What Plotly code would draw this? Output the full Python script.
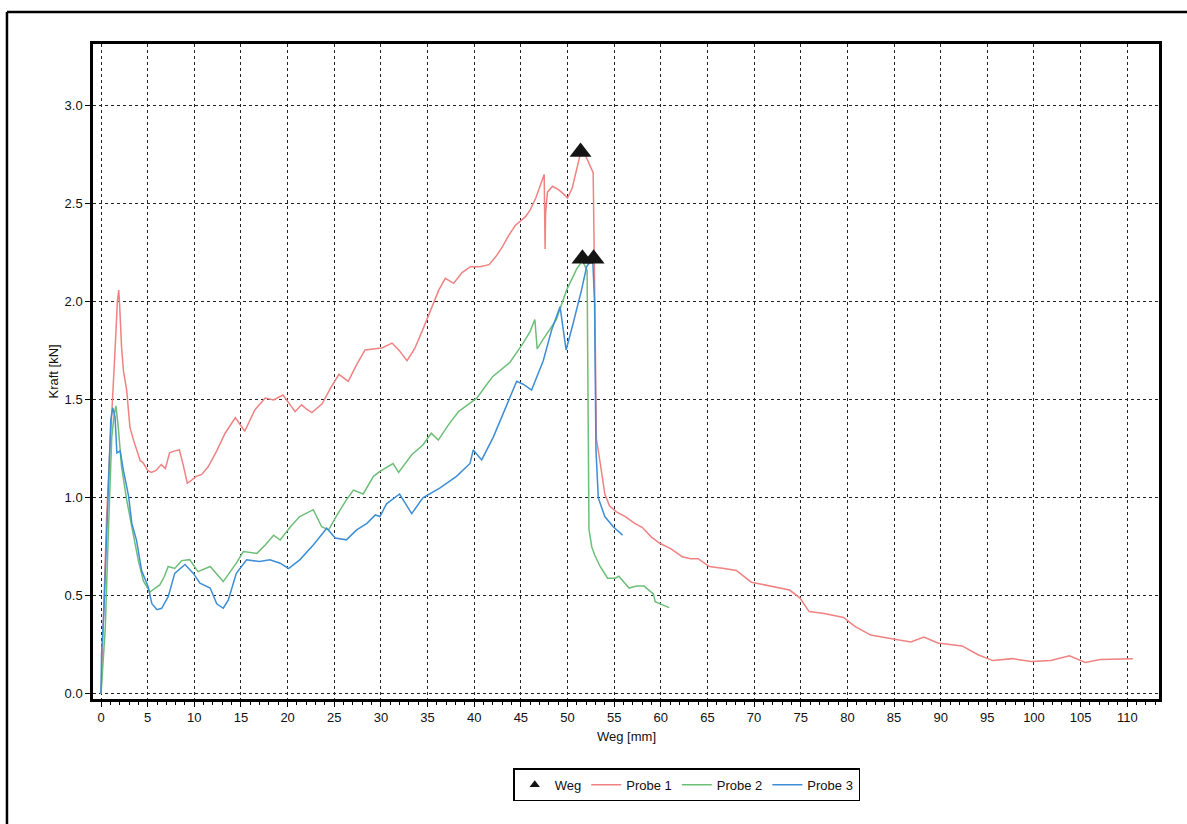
import plotly.graph_objects as go

# ---------------- data ----------------
p1_x = [0, 0.3, 0.6, 0.9, 1.2, 1.5, 1.75, 1.9, 2.0, 2.2, 2.4, 2.75, 3.1, 3.45, 4.2, 4.5, 5.0, 5.4, 5.9,
        6.45, 6.9, 7.35, 7.9, 8.4, 8.8, 9.25, 9.7, 10.2, 10.8, 11.5, 12.4, 13.3, 14.4, 15.4, 16.5, 17.6,
        18.5, 19.5, 20.2, 20.8, 21.5, 22.1, 22.6, 23.2, 23.7, 24.6, 25.5, 26.5, 27.4, 28.3, 29.2, 30.1,
        31.2, 32.0, 32.8, 33.6, 34.5, 35.5, 36.2, 36.9, 37.8, 38.7, 39.6, 40.6, 41.6, 42.3, 43.0, 43.7,
        44.4, 45.5, 46.0, 46.6, 47.1, 47.5, 47.55, 47.6, 47.65, 47.85, 48.4, 49.1, 49.6, 50.0, 50.5,
        50.9, 51.3, 51.8, 52.2, 52.5, 52.75, 52.85, 52.95, 53.0, 53.1, 53.5, 54.0, 54.5, 55.2, 56.2,
        57.2, 58.0, 59.0, 59.85, 61.1, 62.3, 63.2, 64.0, 65.2, 66.8, 68.1, 69.7, 71.8, 73.8, 74.9, 75.9,
        77.5, 79.6, 80.8, 82.5, 84.9, 86.8, 88.2, 89.7, 92.3, 94.0, 95.6, 97.7, 99.7, 101.8, 103.8,
        105.5, 107.1, 109.2, 110.6]
p1_y = [0, 0.45, 0.9, 1.2, 1.45, 1.75, 2.0, 2.06, 1.98, 1.77, 1.65, 1.55, 1.36, 1.30, 1.19, 1.18, 1.14,
        1.13, 1.14, 1.17, 1.15, 1.23, 1.24, 1.245, 1.17, 1.075, 1.09, 1.11, 1.12, 1.16, 1.24, 1.33, 1.41,
        1.34, 1.45, 1.51, 1.50, 1.525, 1.48, 1.44, 1.475, 1.45, 1.435, 1.46, 1.48, 1.56, 1.63, 1.595,
        1.68, 1.755, 1.76, 1.765, 1.79, 1.75, 1.70, 1.76, 1.86, 1.975, 2.06, 2.12, 2.095, 2.15, 2.18,
        2.18, 2.19, 2.23, 2.28, 2.34, 2.39, 2.435, 2.47, 2.53, 2.60, 2.65, 2.45, 2.27, 2.45, 2.56, 2.59,
        2.57, 2.55, 2.53, 2.58, 2.66, 2.74, 2.76, 2.72, 2.69, 2.66, 2.3, 1.9, 1.5, 1.30, 1.18, 1.02,
        0.96, 0.93, 0.905, 0.87, 0.85, 0.80, 0.77, 0.74, 0.70, 0.69, 0.69, 0.65, 0.64, 0.63, 0.57, 0.55,
        0.53, 0.49, 0.42, 0.41, 0.39, 0.345, 0.30, 0.28, 0.265, 0.29, 0.26, 0.245, 0.20, 0.17, 0.18,
        0.165, 0.17, 0.195, 0.16, 0.175, 0.18, 0.18]

p2_x = [0, 0.45, 0.8, 1.0, 1.15, 1.4, 1.6, 1.85, 2.2, 2.75, 3.45, 4.0, 4.55, 5.25, 5.8, 6.3, 6.8, 7.2,
        7.9, 8.65, 9.5, 10.4, 11.7, 12.4, 13.1, 13.8, 14.5, 15.25, 16.7, 17.6, 18.5, 19.2, 20.3, 21.3,
        22.75, 23.65, 24.4, 25.3, 26.3, 27.05, 28.1, 29.2, 29.9, 31.3, 31.9, 33.3, 34.5, 35.4, 36.15,
        37.2, 38.3, 39.0, 40.3, 41.2, 42.0, 43.8, 45.25, 46.0, 46.5, 46.75, 47.4, 48.8, 49.9, 51.0, 51.6,
        52.1, 52.2, 52.3, 52.6, 52.9, 53.5, 54.3, 55.1, 55.5, 56.6, 57.4, 58.2, 59.2, 59.4, 60.9]
p2_y = [0, 0.33, 0.84, 1.13, 1.31, 1.42, 1.47, 1.36, 1.16, 0.99, 0.82, 0.68, 0.575, 0.52, 0.54, 0.556,
        0.60, 0.65, 0.64, 0.68, 0.685, 0.624, 0.65, 0.61, 0.573, 0.62, 0.667, 0.726, 0.717, 0.76, 0.81,
        0.785, 0.853, 0.905, 0.94, 0.853, 0.837, 0.913, 0.99, 1.04, 1.02, 1.11, 1.135, 1.175, 1.13,
        1.22, 1.27, 1.33, 1.295, 1.37, 1.44, 1.465, 1.51, 1.57, 1.62, 1.69, 1.79, 1.85, 1.91, 1.76,
        1.81, 1.91, 2.06, 2.17, 2.21, 2.16, 1.6, 0.84, 0.75, 0.71, 0.65, 0.59, 0.59, 0.60, 0.54, 0.55,
        0.55, 0.51, 0.47, 0.44]

p3_x = [0, 0.05, 0.3, 0.55, 0.8, 1.05, 1.25, 1.5, 1.7, 2.05, 2.4, 2.95, 3.3, 3.8, 4.35, 5.05, 5.45, 6.0,
        6.5, 7.2, 7.9, 9.0, 9.9, 10.6, 11.7, 12.4, 13.1, 13.65, 14.5, 15.6, 17.0, 18.1, 19.2, 20.1, 21.3,
        22.75, 24.2, 25.1, 26.3, 27.4, 28.5, 29.4, 29.9, 30.6, 32.0, 33.3, 34.5, 36.3, 38.1, 39.55, 39.9,
        40.8, 42.05, 43.5, 44.55, 45.25, 46.15, 47.4, 48.3, 49.2, 49.85, 50.6, 51.5, 52.05, 52.4, 52.7,
        52.9, 52.95, 53.05, 53.3, 54.0, 54.9, 55.6, 55.9]
p3_y = [0, 0.2, 0.41, 0.75, 1.09, 1.40, 1.46, 1.415, 1.23, 1.24, 1.14, 1.01, 0.87, 0.785, 0.63, 0.547,
        0.46, 0.43, 0.437, 0.496, 0.615, 0.66, 0.615, 0.565, 0.54, 0.46, 0.437, 0.48, 0.615, 0.684,
        0.675, 0.684, 0.667, 0.64, 0.684, 0.76, 0.845, 0.795, 0.786, 0.837, 0.87, 0.913, 0.905, 0.97,
        1.02, 0.92, 1.0, 1.05, 1.11, 1.176, 1.245, 1.194, 1.31, 1.48, 1.595, 1.58, 1.55, 1.70, 1.857,
        1.976, 1.755, 1.89, 2.06, 2.18, 2.2, 2.22, 2.0, 1.70, 1.245, 1.0, 0.905, 0.853, 0.82, 0.81]

weg_x = [51.4, 51.6, 52.8]
weg_y = [2.765, 2.22, 2.22]

x_ticks = list(range(0, 111, 5))
y_ticks = [0.0, 0.5, 1.0, 1.5, 2.0, 2.5, 3.0]

# ---------------- figure ----------------
FONT = "Liberation Sans, Arial, sans-serif"
TXT = "#111111"
fig = go.Figure()
fig.add_trace(go.Scatter(x=p1_x, y=p1_y, mode="lines", name="Probe 1",
                         line=dict(color="#f08282", width=1.5), legendrank=2))
fig.add_trace(go.Scatter(x=p2_x, y=p2_y, mode="lines", name="Probe 2",
                         line=dict(color="#6dbf78", width=1.5), legendrank=3))
fig.add_trace(go.Scatter(x=p3_x, y=p3_y, mode="lines", name="Probe 3",
                         line=dict(color="#3d8ed6", width=1.5), legendrank=4))
fig.add_trace(go.Scatter(x=weg_x, y=weg_y, mode="markers", name="Weg", showlegend=False,
                         legendgroup="weg",
                         marker=dict(symbol="triangle-up", size=19, color="#141414")))
# legend entry for the markers (smaller symbol, as in the reference legend)
fig.add_trace(go.Scatter(x=[None], y=[None], mode="markers", name="Weg", legendgroup="weg",
                         marker=dict(symbol="triangle-up", size=9, color="#141414"),
                         legendrank=1))

grid = dict(showgrid=True, gridcolor="#222222", gridwidth=1, griddash="3px,3px",
            zeroline=False, showline=True, linecolor="black", linewidth=2.5, mirror=True,
            ticks="outside", tickcolor="black", ticklen=5,
            tickfont=dict(family=FONT, size=13, color=TXT))

fig.update_xaxes(range=[-0.86, 113.4], tickvals=x_ticks, **grid,
                 minor=dict(dtick=1, ticks="outside", ticklen=3, tickcolor="black", showgrid=False))
fig.update_yaxes(range=[-0.026, 3.316], tickvals=y_ticks, tickformat=".1f", **grid)

fig.update_layout(
    width=1187, height=824,
    margin=dict(l=93, r=28, t=44, b=125),
    paper_bgcolor="white", plot_bgcolor="white",
    font=dict(family=FONT, size=13, color=TXT),
    showlegend=True,
    legend=dict(orientation="h", x=0.557, y=-0.131, xanchor="center", yanchor="middle",
                bordercolor="black", borderwidth=1.5, bgcolor="white",
                font=dict(family=FONT, size=13, color=TXT), itemwidth=30,
                traceorder="normal"),
    annotations=[
        dict(text="Weg [mm]", xref="paper", yref="paper", x=0.5, y=-0.058,
             showarrow=False, xanchor="center", yanchor="middle",
             font=dict(family=FONT, size=13, color=TXT)),
        dict(text="Kraft [kN]", xref="paper", yref="paper", x=-0.0375, y=0.5,
             showarrow=False, xanchor="center", yanchor="middle", textangle=-90,
             font=dict(family=FONT, size=13, color=TXT)),
    ],
    shapes=[
        dict(type="line", xref="paper", yref="paper", x0=-0.0807, x1=1.05, y0=1.049, y1=1.049,
             line=dict(color="black", width=2.5)),
        dict(type="line", xref="paper", yref="paper", x0=-0.0807, x1=-0.0807, y0=1.049, y1=-0.2,
             line=dict(color="black", width=2.5)),
    ],
)

fig.write_html("out.html")
